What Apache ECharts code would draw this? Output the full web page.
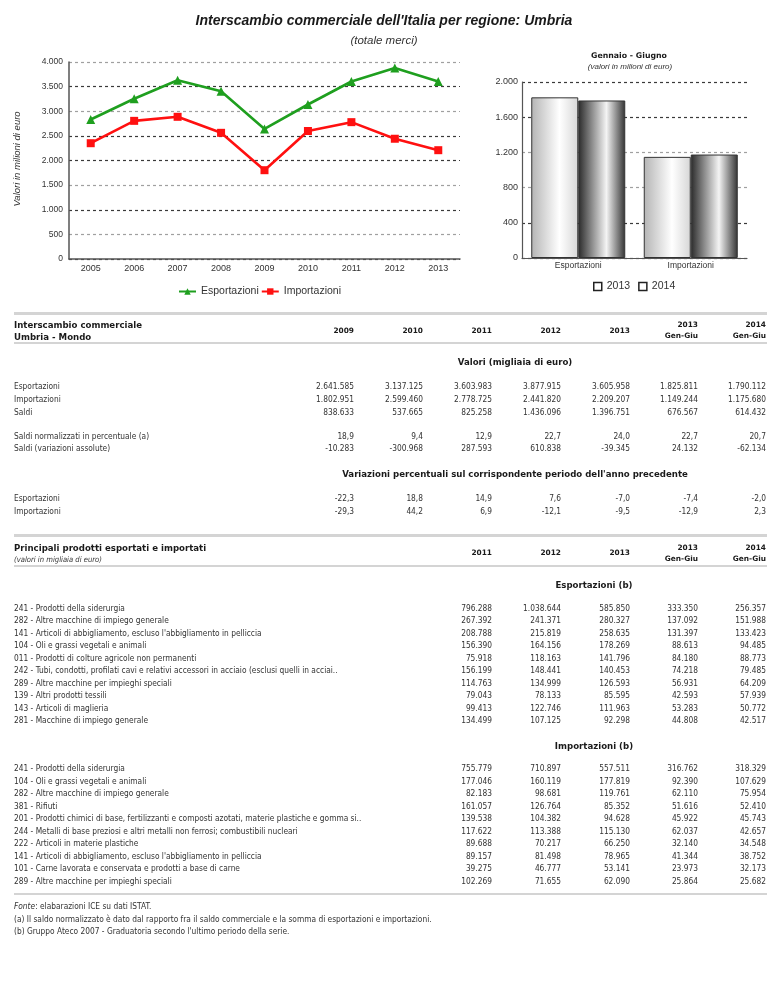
<!DOCTYPE html>
<html><head><meta charset="utf-8">
<script src="https://cdn.jsdelivr.net/npm/echarts@6/dist/echarts.min.js"></script>
<style>
html,body{margin:0;padding:0;background:#fff;width:768px;height:994px;overflow:hidden;}
#chart{position:absolute;left:0;top:0;width:768px;height:310px;}
#tables{position:absolute;left:0;top:0;width:768px;height:994px;}
.t{position:absolute;white-space:nowrap;line-height:12px;height:12px;color:#333;font-family:"DejaVu Sans Condensed","DejaVu Sans",sans-serif;font-size:8.3px;}
.b{font-family:"DejaVu Sans",sans-serif;font-weight:bold;color:#1a1a1a;font-size:8.6px;}
.c{font-family:"DejaVu Sans",sans-serif;font-weight:bold;color:#1a1a1a;font-size:7.4px;}
.i{font-style:italic;font-size:7.6px;}
.hr{position:absolute;left:14px;width:753px;background:#d4d4d4;}
</style></head><body>
<div id="chart"></div>
<div id="tables"></div>
<script>
// ---- chart data ----
const years = ['2005','2006','2007','2008','2009','2010','2011','2012','2013'];
const esportazioni = [2832, 3253, 3630, 3408, 2641.6, 3137.1, 3604.0, 3877.9, 3606.0];
const importazioni = [2351, 2805, 2887, 2562, 1803.0, 2599.5, 2778.7, 2441.8, 2209.2];
const periodCats = ['Esportazioni', 'Importazioni'];
const genGiu2013 = [1825.811, 1149.244];
const genGiu2014 = [1790.112, 1175.680];

// ---- table 1 data ----
const t1Cols = ['2009', '2010', '2011', '2012', '2013', '2013|Gen-Giu', '2014|Gen-Giu'];
const tabEsportazioni = ['2.641.585','3.137.125','3.603.983','3.877.915','3.605.958','1.825.811','1.790.112'];
const tabImportazioni = ['1.802.951','2.599.460','2.778.725','2.441.820','2.209.207','1.149.244','1.175.680'];
const tabSaldi = ['838.633','537.665','825.258','1.436.096','1.396.751','676.567','614.432'];
const tabSaldiNorm = ['18,9','9,4','12,9','22,7','24,0','22,7','20,7'];
const tabSaldiVar = ['-10.283','-300.968','287.593','610.838','-39.345','24.132','-62.134'];
const varEsportazioni = ['-22,3','18,8','14,9','7,6','-7,0','-7,4','-2,0'];
const varImportazioni = ['-29,3','44,2','6,9','-12,1','-9,5','-12,9','2,3'];

// ---- table 2 data ----
const t2Cols = ['2011', '2012', '2013', '2013|Gen-Giu', '2014|Gen-Giu'];
const expProducts = [
 '241 - Prodotti della siderurgia',
 '282 - Altre macchine di impiego generale',
 "141 - Articoli di abbigliamento, escluso l'abbigliamento in pelliccia",
 '104 - Oli e grassi vegetali e animali',
 '011 - Prodotti di colture agricole non permanenti',
 '242 - Tubi, condotti, profilati cavi e relativi accessori in acciaio (esclusi quelli in acciai..',
 '289 - Altre macchine per impieghi speciali',
 '139 - Altri prodotti tessili',
 '143 - Articoli di maglieria',
 '281 - Macchine di impiego generale'];
const expValues = [
 ['796.288','1.038.644','585.850','333.350','256.357'],
 ['267.392','241.371','280.327','137.092','151.988'],
 ['208.788','215.819','258.635','131.397','133.423'],
 ['156.390','164.156','178.269','88.613','94.485'],
 ['75.918','118.163','141.796','84.180','88.773'],
 ['156.199','148.441','140.453','74.218','79.485'],
 ['114.763','134.999','126.593','56.931','64.209'],
 ['79.043','78.133','85.595','42.593','57.939'],
 ['99.413','122.746','111.963','53.283','50.772'],
 ['134.499','107.125','92.298','44.808','42.517']];
const impProducts = [
 '241 - Prodotti della siderurgia',
 '104 - Oli e grassi vegetali e animali',
 '282 - Altre macchine di impiego generale',
 '381 - Rifiuti',
 '201 - Prodotti chimici di base, fertilizzanti e composti azotati, materie plastiche e gomma si..',
 '244 - Metalli di base preziosi e altri metalli non ferrosi; combustibili nucleari',
 '222 - Articoli in materie plastiche',
 "141 - Articoli di abbigliamento, escluso l'abbigliamento in pelliccia",
 '101 - Carne lavorata e conservata e prodotti a base di carne',
 '289 - Altre macchine per impieghi speciali'];
const impValues = [
 ['755.779','710.897','557.511','316.762','318.329'],
 ['177.046','160.119','177.819','92.390','107.629'],
 ['82.183','98.681','119.761','62.110','75.954'],
 ['161.057','126.764','85.352','51.616','52.410'],
 ['139.538','104.382','94.628','45.922','45.743'],
 ['117.622','113.388','115.130','62.037','42.657'],
 ['89.688','70.217','66.250','32.140','34.548'],
 ['89.157','81.498','78.965','41.344','38.752'],
 ['39.275','46.777','53.141','23.973','32.173'],
 ['102.269','71.655','62.090','25.864','25.682']];

// ---- chart ----
const fmt = v => String(v).replace(/\B(?=(\d{3})+(?!\d))/g, '.');
const FONT = 'Liberation Sans, Arial, sans-serif';
const chart = echarts.init(document.getElementById('chart'), null, {renderer: 'canvas'});
const gradLight = new echarts.graphic.LinearGradient(0, 0, 1, 0, [
  {offset: 0, color: '#b4b4b4'}, {offset: 0.6, color: '#ffffff'}, {offset: 1, color: '#d6d6d6'}]);
const gradDark = new echarts.graphic.LinearGradient(0, 0, 1, 0, [
  {offset: 0, color: '#2a2a2a'}, {offset: 0.6, color: '#f4f4f4'}, {offset: 1, color: '#333333'}]);
const L = '#a0a0a0', D = '#3a3a3a';
chart.setOption({
  animation: false,
  textStyle: {fontFamily: FONT},
  grid: [
    {left: 69, top: 62, width: 391, height: 197},
    {left: 522, top: 82, width: 225, height: 176}
  ],
  xAxis: [
    {type: 'category', gridIndex: 0, data: years, boundaryGap: true,
     axisLine: {lineStyle: {color: '#555', width: 1.5}}, axisTick: {show: false},
     axisLabel: {color: '#333', fontSize: 9, margin: 5}},
    {type: 'category', gridIndex: 1, data: periodCats,
     axisLine: {lineStyle: {color: '#555', width: 1.2}}, axisTick: {show: false},
     axisLabel: {color: '#333', fontSize: 8.5, margin: 3}}
  ],
  yAxis: [
    {type: 'value', gridIndex: 0, min: 0, max: 4000, interval: 500,
     axisLine: {show: true, lineStyle: {color: '#555', width: 1.5}}, axisTick: {show: false},
     axisLabel: {formatter: fmt, color: '#333', fontSize: 8.5, margin: 6},
     splitLine: {lineStyle: {type: [3, 3], width: 1.2, color: [D, L, D, L, D, D, L, D, L]}}},
    {type: 'value', gridIndex: 1, min: 0, max: 2000, interval: 400,
     axisLine: {show: true, lineStyle: {color: '#555', width: 1.2}}, axisTick: {show: false},
     axisLabel: {formatter: fmt, color: '#333', fontSize: 9, margin: 4},
     splitLine: {lineStyle: {type: [3, 3], width: 1.2, color: [D, D, L, L, D, D]}}}
  ],
  legend: [
    {data: ['Esportazioni', 'Importazioni'], left: 178, top: 286, padding: 0, itemWidth: 17, itemHeight: 8,
     itemGap: 2, textStyle: {fontSize: 10.5, color: '#333', fontFamily: FONT}},
    {data: [
      {name: '2013', icon: 'rect', itemStyle: {color: '#fff', borderColor: '#222', borderWidth: 1.5}},
      {name: '2014', icon: 'rect', itemStyle: {color: '#fff', borderColor: '#222', borderWidth: 1.5}}],
     left: 593, top: 281, padding: 0, itemWidth: 8, itemHeight: 8, itemGap: 8,
     textStyle: {fontSize: 10.5, color: '#333', fontFamily: FONT}}
  ],
  series: [
    {name: 'Esportazioni', type: 'line', xAxisIndex: 0, yAxisIndex: 0, data: esportazioni,
     symbol: 'triangle', symbolSize: 9, color: '#1f9f1f', lineStyle: {width: 2.6, color: '#1f9f1f'},
     itemStyle: {color: '#1f9f1f'}},
    {name: 'Importazioni', type: 'line', xAxisIndex: 0, yAxisIndex: 0, data: importazioni,
     symbol: 'rect', symbolSize: 8, color: '#ff1010', lineStyle: {width: 2.6, color: '#ff1010'},
     itemStyle: {color: '#ff1010'}},
    {name: '2013', type: 'bar', xAxisIndex: 1, yAxisIndex: 1, data: genGiu2013, barWidth: 47, barGap: '0%',
     itemStyle: {color: gradLight, borderColor: '#333', borderWidth: 1}},
    {name: '2014', type: 'bar', xAxisIndex: 1, yAxisIndex: 1, data: genGiu2014, barWidth: 47, barGap: '0%',
     itemStyle: {color: gradDark, borderColor: '#333', borderWidth: 1}}
  ],
  graphic: [
    {type: 'text', x: 384, y: 21, style: {text: "Interscambio commerciale dell'Italia per regione: Umbria",
      font: 'italic bold 14px Liberation Sans', fill: '#1a1a1a', align: 'center', verticalAlign: 'middle'}},
    {type: 'text', x: 384, y: 41, style: {text: '(totale merci)',
      font: 'italic 11.5px Liberation Sans', fill: '#333', align: 'center', verticalAlign: 'middle'}},
    {type: 'text', x: 629, y: 56, style: {text: 'Gennaio - Giugno',
      font: 'bold 7.8px DejaVu Sans', fill: '#1a1a1a', align: 'center', verticalAlign: 'middle'}},
    {type: 'text', x: 630, y: 67, style: {text: '(valori in milioni di euro)',
      font: 'italic 8px Liberation Sans', fill: '#333', align: 'center', verticalAlign: 'middle'}},
    {type: 'text', x: 17, y: 159, rotation: Math.PI / 2, style: {text: 'Valori in milioni di euro',
      font: 'italic 9.5px Liberation Sans', fill: '#333', align: 'center', verticalAlign: 'middle'}}
  ]
});

// ---- tables ----
const T = document.getElementById('tables');
function put(x, y, text, cls, align, html) {
  const d = document.createElement('div');
  d.className = 't ' + (cls || '');
  if (html) d.innerHTML = text; else d.textContent = text;
  if (align === 'right') { d.style.right = (768 - x) + 'px'; d.style.textAlign = 'right'; }
  else if (align === 'center') { d.style.left = (x - 300) + 'px'; d.style.width = '600px'; d.style.textAlign = 'center'; }
  else d.style.left = x + 'px';
  d.style.top = (y - 6) + 'px';
  T.appendChild(d);
}
function hr(y, h) {
  const d = document.createElement('div');
  d.className = 'hr'; d.style.top = (y - h / 2) + 'px'; d.style.height = h + 'px';
  T.appendChild(d);
}
function headerCols(cols, xs, y1, y2, ymid) {
  cols.forEach((c, i) => {
    const p = c.split('|');
    if (p.length === 2) { put(xs[i], y1, p[0], 'c', 'right'); put(xs[i], y2, p[1], 'c', 'right'); }
    else put(xs[i], ymid, p[0], 'c', 'right');
  });
}
function row(y, label, vals, xs) {
  put(14, y, label, '', 'left');
  vals.forEach((v, i) => put(xs[i], y, v, '', 'right'));
}
const X1 = [354, 423, 492, 561, 630, 698, 766];
const X2 = [492, 561, 630, 698, 766];

// table 1
hr(313, 3);
put(14, 325, 'Interscambio commerciale', 'b', 'left');
put(14, 337, 'Umbria - Mondo', 'b', 'left');
headerCols(t1Cols, X1, 325, 336, 331);
hr(342.5, 2);
put(515, 362, 'Valori (migliaia di euro)', 'b', 'center');
row(386, 'Esportazioni', tabEsportazioni, X1);
row(398.8, 'Importazioni', tabImportazioni, X1);
row(411.6, 'Saldi', tabSaldi, X1);
row(436, 'Saldi normalizzati in percentuale (a)', tabSaldiNorm, X1);
row(448.3, 'Saldi (variazioni assolute)', tabSaldiVar, X1);
put(515, 474, "Variazioni percentuali sul corrispondente periodo dell'anno precedente", 'b', 'center');
row(497.8, 'Esportazioni', varEsportazioni, X1);
row(510.8, 'Importazioni', varImportazioni, X1);

// table 2
hr(535, 3);
put(14, 548, 'Principali prodotti esportati e importati', 'b', 'left');
put(14, 559.5, '(valori in migliaia di euro)', 'i', 'left');
headerCols(t2Cols, X2, 548, 559, 553);
hr(565.5, 2);
put(594, 585, 'Esportazioni (b)', 'b', 'center');
expProducts.forEach((p, i) => row(607.8 + i * 12.48, p, expValues[i], X2));
put(594, 746, 'Importazioni (b)', 'b', 'center');
impProducts.forEach((p, i) => row(768.3 + i * 12.52, p, impValues[i], X2));
hr(893.5, 2);
put(14, 906, '<i>Fonte</i>: elabarazioni ICE su dati ISTAT.', '', 'left', true);
put(14, 918.7, "(a) Il saldo normalizzato è dato dal rapporto fra il saldo commerciale e la somma di esportazioni e importazioni.", '', 'left');
put(14, 931.2, "(b) Gruppo Ateco 2007 - Graduatoria secondo l'ultimo periodo della serie.", '', 'left');
</script>
</body></html>
